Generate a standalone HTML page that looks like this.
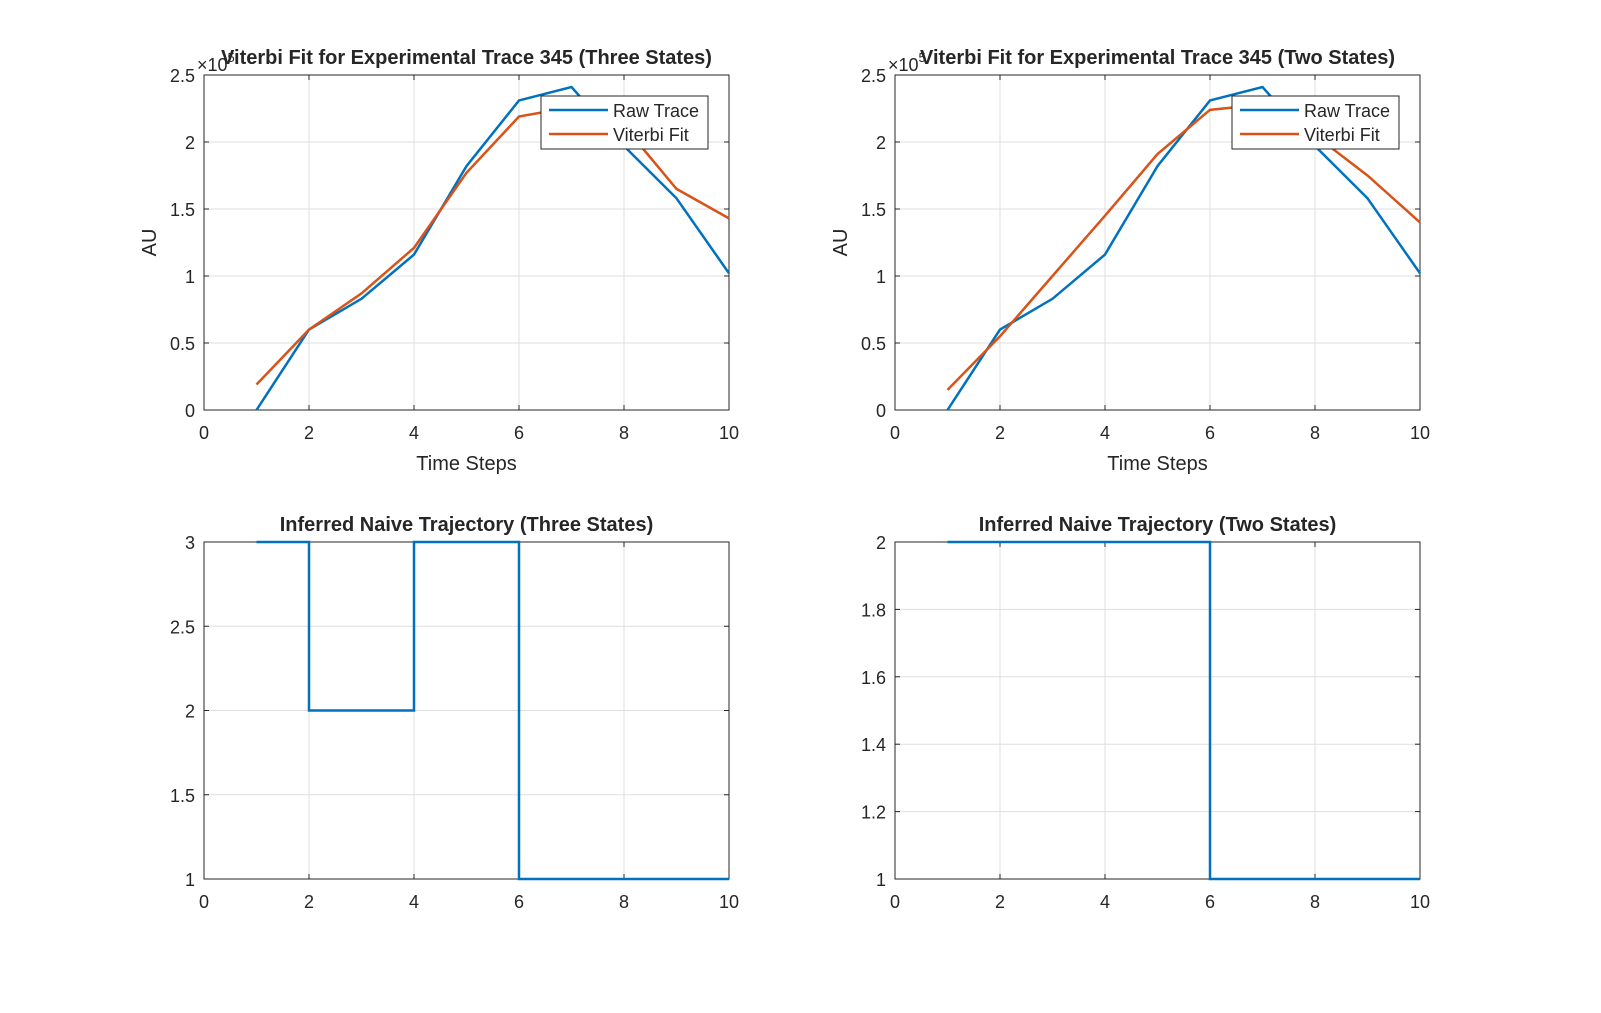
<!DOCTYPE html>
<html><head><meta charset="utf-8"><style>
body{margin:0;background:#fff;font-family:"Liberation Sans",Arial,sans-serif}
svg text{font-family:"Liberation Sans",Arial,sans-serif}
</style></head><body>
<svg id="fig" width="1601" height="1008" xmlns="http://www.w3.org/2000/svg"></svg>
<script>
const xs=[1,2,3,4,5,6,7,8,9,10];
const rawTrace=[0,0.6,0.83,1.16,1.82,2.31,2.41,1.97,1.58,1.02];
const fit3=[0.19,0.6,0.87,1.21,1.77,2.19,2.26,2.12,1.65,1.43];
const fit2=[0.15,0.55,1.0,1.45,1.91,2.24,2.28,2.05,1.75,1.40];
const states3=[3,2,2,3,3,1,1,1,1,1];
const states2=[2,2,2,2,2,1,1,1,1,1];
const xTicks=[0,2,4,6,8,10];
const yTicksTop=[0,0.5,1,1.5,2,2.5];
const yTicks3=[1,1.5,2,2.5,3];
const yTicks2=[1,1.2,1.4,1.6,1.8,2];
const NS="http://www.w3.org/2000/svg";
const svg=document.getElementById('fig');
function el(t,a,p){const e=document.createElementNS(NS,t);for(const k in a)e.setAttribute(k,a[k]);(p||svg).appendChild(e);return e;}
function txt(x,y,s,sz,anchor,wt,p){const t=el('text',{x:x,y:y,'font-size':sz,'text-anchor':anchor||'middle',fill:'#262626','font-weight':wt||'normal'},p);t.textContent=s;return t;}
function panel(name,L,T,R,B,ymin,ymax,yt,yfmt,title,xlabel,ylabel,exp){
 const g=el('g',{});
 
 
 const sx=v=>L+(v-0)/(10-0)*(R-L), sy=v=>B-(v-ymin)/(ymax-ymin)*(B-T);
 el('rect',{x:L,y:T,width:R-L,height:B-T,fill:'#fff'},g);
 xTicks.forEach(v=>{el('line',{x1:sx(v),x2:sx(v),y1:T,y2:B,stroke:'#dfdfdf'},g);
  el('line',{x1:sx(v),x2:sx(v),y1:B,y2:B-5,stroke:'#262626'},g);el('line',{x1:sx(v),x2:sx(v),y1:T,y2:T+5,stroke:'#262626'},g);
  const t=txt(sx(v),B+29,String(v),18,'middle','normal',g);});
 yt.forEach(v=>{el('line',{x1:L,x2:R,y1:sy(v),y2:sy(v),stroke:'#dfdfdf'},g);
  el('line',{x1:L,x2:L+5,y1:sy(v),y2:sy(v),stroke:'#262626'},g);el('line',{x1:R,x2:R-5,y1:sy(v),y2:sy(v),stroke:'#262626'},g);
  const t=txt(L-9,sy(v)+7,yfmt(v),18,'end','normal',g);});
 el('rect',{x:L,y:T,width:R-L,height:B-T,fill:'none',stroke:'#262626'},g);
 const tt=txt((L+R)/2,T-11,title,20,'middle','bold',g);
 if(exp){const e=txt(L-7,T-4,'×10',18,'start','normal',g);const s=el('tspan',{dy:-9,'font-size':13},e);s.textContent='5';}
 if(xlabel){const t=txt((L+R)/2,B+60,xlabel,20,'middle','normal',g);}
 if(ylabel){const t=txt(0,0,ylabel,20,'middle','normal',g);t.setAttribute('transform',`translate(${L-48},${(T+B)/2}) rotate(-90)`);}
 return {g,sx,sy};
}
function line(p,ys,color,name){const d=xs.map((x,i)=>(i?'L':'M')+p.sx(x)+','+p.sy(ys[i])).join(' ');
 const e=el('path',{d:d,fill:'none',stroke:color,'stroke-width':2.5},p.g);
 }
function stairs(p,ys,name){let d='M'+p.sx(xs[0])+','+p.sy(ys[0]);
 for(let i=1;i<xs.length;i++){d+=' L'+p.sx(xs[i])+','+p.sy(ys[i-1])+' L'+p.sx(xs[i])+','+p.sy(ys[i]);}
 const e=el('path',{d:d,fill:'none',stroke:'#0072bd','stroke-width':2.5},p.g);
 }
function legend(p,x,y){const g=el('g',{},p.g);
 
 el('rect',{x:x,y:y,width:167,height:53,fill:'#fff',stroke:'#262626'},g);
 el('line',{x1:x+8,x2:x+67,y1:y+14,y2:y+14,stroke:'#0072bd','stroke-width':2.5},g);
 el('line',{x1:x+8,x2:x+67,y1:y+38,y2:y+38,stroke:'#d95319','stroke-width':2.5},g);
 txt(x+72,y+21,'Raw Trace',18,'start','normal',g);txt(x+72,y+45,'Viterbi Fit',18,'start','normal',g);}
const f1=v=>String(v);
const p1=panel('panel-three-states-fit',204,75,729,410,0,2.5,yTicksTop,f1,'Viterbi Fit for Experimental Trace 345 (Three States)','Time Steps','AU',true);
line(p1,rawTrace,'#0072bd','raw-trace-line');line(p1,fit3,'#d95319','viterbi-fit-line');legend(p1,541,96);
const p2=panel('panel-two-states-fit',895,75,1420,410,0,2.5,yTicksTop,f1,'Viterbi Fit for Experimental Trace  345 (Two States)','Time Steps','AU',true);
line(p2,rawTrace,'#0072bd','raw-trace-line');line(p2,fit2,'#d95319','viterbi-fit-line');legend(p2,1232,96);
const p3=panel('panel-three-states-trajectory',204,542,729,879,1,3,yTicks3,f1,'Inferred Naive Trajectory (Three States)','','',false);
stairs(p3,states3,'trajectory-line');
const p4=panel('panel-two-states-trajectory',895,542,1420,879,1,2,yTicks2,v=>(v===1||v===2)?String(v):v.toFixed(1),'Inferred Naive Trajectory (Two States)','','',false);
stairs(p4,states2,'trajectory-line');
</script>
</body></html>
